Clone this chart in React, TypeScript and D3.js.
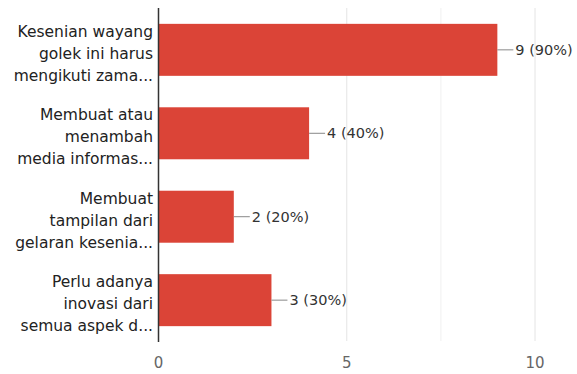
import React from "react";
import * as d3 from "d3";

const categories: string[][] = [
  ["Kesenian wayang", "golek ini harus", "mengikuti zama..."],
  ["Membuat atau", "menambah", "media informas..."],
  ["Membuat", "tampilan dari", "gelaran kesenia..."],
  ["Perlu adanya", "inovasi dari", "semua aspek d..."],
];
const values: number[] = [9, 4, 2, 3];
const percents: string[] = ["90%", "40%", "20%", "30%"];
const ticks: number[] = [0, 5, 10];
const minorGrid: number[] = [7.5];

const W = 577;
const H = 374;
const FONT = "'DejaVu Sans', sans-serif";

export default function App() {
  const x = d3.scaleLinear().domain([0, 10]).range([158.5, 535]);
  const ids = categories.map((_, i) => String(i));
  const y = d3
    .scaleBand<string>()
    .domain(ids)
    .range([8, 342])
    .paddingInner(0.377)
    .paddingOuter(0.19);
  const top = 8;
  const bottom = 341;

  return (
    <svg
      width={W}
      height={H}
      style={{ position: "fixed", left: 0, top: 0, background: "#fff" }}
      fontFamily={FONT}
    >
      <rect x={0} y={0} width={W} height={H} fill="#fff" />
      {minorGrid.map((t) => (
        <line key={"m" + t} x1={x(t)} x2={x(t)} y1={top} y2={bottom} stroke="#f0f0f0" strokeWidth={1} />
      ))}
      {ticks.filter((t) => t !== 0).map((t) => (
        <line key={"g" + t} x1={x(t)} x2={x(t)} y1={top} y2={bottom} stroke="#e4e4e4" strokeWidth={1} />
      ))}
      {values.map((v, i) => {
        const yc = (y(ids[i]) as number) + y.bandwidth() / 2;
        const xe = x(v);
        return (
          <g key={i}>
            <rect x={x(0)} y={y(ids[i])} width={xe - x(0)} height={y.bandwidth()} fill="#db4437" />
            <line x1={xe} x2={xe + 16} y1={yc} y2={yc} stroke="#888" strokeWidth={1} />
            <text x={xe + 18} y={yc + 5} fontSize={14.5} fill="#333">
              {`${v} (${percents[i]})`}
            </text>
            {categories[i].map((ln, j) => (
              <text key={j} x={153} y={yc - 13 + j * 22} fontSize={15.5} fill="#222" textAnchor="end">
                {ln}
              </text>
            ))}
          </g>
        );
      })}
      <line x1={x(0)} x2={x(0)} y1={top} y2={bottom + 1} stroke="#333" strokeWidth={1.5} />
      {ticks.map((t) => (
        <text key={"t" + t} x={x(t)} y={368} fontSize={15} fill="#666" textAnchor="middle">
          {t}
        </text>
      ))}
    </svg>
  );
}
